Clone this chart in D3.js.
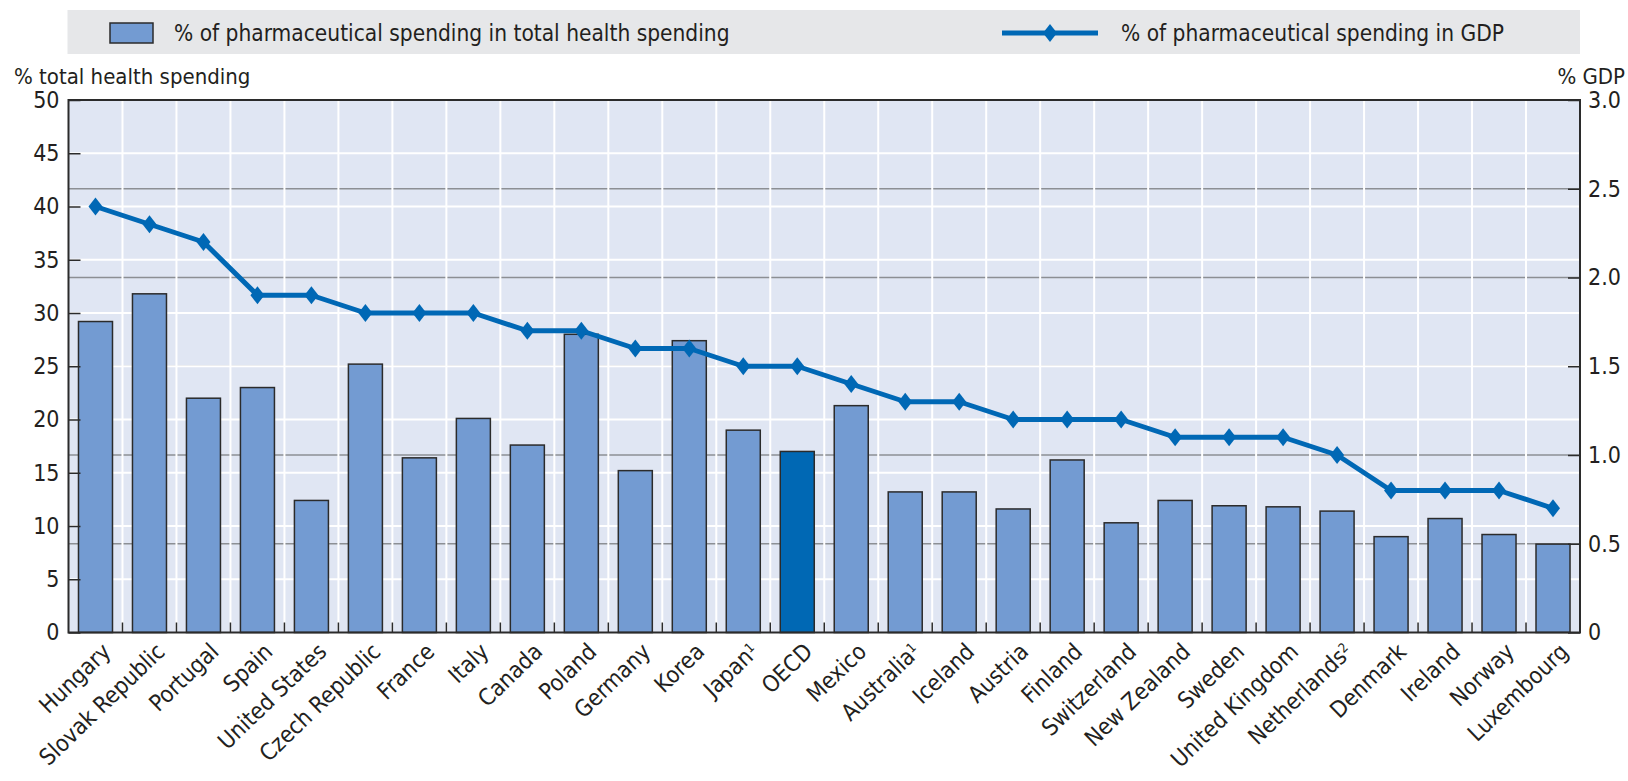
<!DOCTYPE html>
<html><head><meta charset="utf-8">
<script src="https://cdn.jsdelivr.net/npm/d3@7/dist/d3.min.js"></script>
<style>
html,body{margin:0;padding:0;background:#fff;}
svg text{font-family:"DejaVu Sans Condensed","Liberation Sans Narrow",sans-serif;fill:#231f20;}
</style></head><body>
<svg id="chart" width="1628" height="781"></svg>
<script>
const categories = ["Hungary","Slovak Republic","Portugal","Spain","United States","Czech Republic","France","Italy","Canada","Poland","Germany","Korea","Japan","OECD","Mexico","Australia","Iceland","Austria","Finland","Switzerland","New Zealand","Sweden","United Kingdom","Netherlands","Denmark","Ireland","Norway","Luxembourg"];
const superscripts = {"Japan":"1","Australia":"1","Netherlands":"2"};
const healthShare = [29.2,31.8,22.0,23.0,12.4,25.2,16.4,20.1,17.6,28.0,15.2,27.4,19.0,17.0,21.3,13.2,13.2,11.6,16.2,10.3,12.4,11.9,11.8,11.4,9.0,10.7,9.2,8.3];
const gdpShare = [2.4,2.3,2.2,1.9,1.9,1.8,1.8,1.8,1.7,1.7,1.6,1.6,1.5,1.5,1.4,1.3,1.3,1.2,1.2,1.2,1.1,1.1,1.1,1.0,0.8,0.8,0.8,0.7];
const leftTicks = [0,5,10,15,20,25,30,35,40,45,50];
const rightTicks = [0,0.5,1.0,1.5,2.0,2.5,3.0];
const legendLabels = ["% of pharmaceutical spending in total health spending","% of pharmaceutical spending in GDP"];
const axisTitles = ["% total health spending","% GDP"];

const svg = d3.select("#chart");
const L = 68.5, R = 1580, T = 100, B = 632.5;
const barColor = "#739bd2", oecdColor = "#0068b4", lineColor = "#0068b5", ink = "#2b2b2b";

const x = d3.scaleBand().domain(categories).range([L, R]).paddingInner(0.37).paddingOuter(0.185);
const xb = d3.scaleBand().domain(categories).range([L, R]);
const yL = d3.scaleLinear().domain([0,50]).range([B, T]);
const yR = d3.scaleLinear().domain([0,3]).range([B, T]);

// legend box
svg.append("rect").attr("x",67.5).attr("y",10).attr("width",1512.5).attr("height",44).attr("fill","#e6e7e9");
svg.append("rect").attr("x",110).attr("y",23).attr("width",43).attr("height",20).attr("fill",barColor).attr("stroke",ink).attr("stroke-width",1.5);
svg.append("text").attr("x",174).attr("y",41).attr("font-size",22.5).text(legendLabels[0]);
svg.append("line").attr("x1",1002).attr("x2",1098).attr("y1",33).attr("y2",33).attr("stroke",lineColor).attr("stroke-width",5);
svg.append("path").attr("d","M0,-9L7,0L0,9L-7,0Z").attr("transform","translate(1050,33)").attr("fill",lineColor);
svg.append("text").attr("x",1121).attr("y",41).attr("font-size",22.5).text(legendLabels[1]);

// axis titles
svg.append("text").attr("x",14).attr("y",84).attr("font-size",22).text(axisTitles[0]);
svg.append("text").attr("x",1625).attr("y",84).attr("font-size",22).attr("text-anchor","end").text(axisTitles[1]);

// plot background
svg.append("rect").attr("x",L).attr("y",T).attr("width",R-L).attr("height",B-T).attr("fill","#e0e6f3");

// gray gridlines at right axis ticks
svg.append("g").selectAll("line").data(rightTicks.filter(d=>d>0&&d<3)).join("line")
  .attr("x1",L).attr("x2",R).attr("y1",d=>yR(d)).attr("y2",d=>yR(d))
  .attr("stroke","#8c8f94").attr("stroke-width",1.5);
// white gridlines at left ticks
svg.append("g").selectAll("line").data(leftTicks.filter(d=>d>0&&d<50)).join("line")
  .attr("x1",L).attr("x2",R).attr("y1",d=>yL(d)).attr("y2",d=>yL(d))
  .attr("stroke","#ffffff").attr("stroke-width",2);
// vertical white gridlines at band boundaries
const bounds = categories.slice(1).map(c=>xb(c));
svg.append("g").selectAll("line").data(bounds).join("line")
  .attr("x1",d=>d).attr("x2",d=>d).attr("y1",T).attr("y2",B)
  .attr("stroke","#ffffff").attr("stroke-width",2);
// bottom small ticks
svg.append("g").selectAll("line").data(bounds).join("line")
  .attr("x1",d=>d).attr("x2",d=>d).attr("y1",B).attr("y2",B-10)
  .attr("stroke",ink).attr("stroke-width",1.5);

// bars
svg.append("g").selectAll("rect").data(categories).join("rect")
  .attr("x",d=>x(d)).attr("width",x.bandwidth())
  .attr("y",(d,i)=>yL(healthShare[i])).attr("height",(d,i)=>B-yL(healthShare[i]))
  .attr("fill",d=>d==="OECD"?oecdColor:barColor)
  .attr("stroke",ink).attr("stroke-width",1.5);

// line
const line = d3.line().x((d,i)=>xb(categories[i])+xb.bandwidth()/2).y(d=>yR(d));
svg.append("path").datum(gdpShare).attr("d",line).attr("fill","none").attr("stroke",lineColor).attr("stroke-width",5).attr("stroke-linejoin","round");
svg.append("g").selectAll("path").data(gdpShare).join("path")
  .attr("d","M0,-9L7,0L0,9L-7,0Z")
  .attr("transform",(d,i)=>`translate(${xb(categories[i])+xb.bandwidth()/2},${yR(d)})`)
  .attr("fill",lineColor);

// frame
svg.append("rect").attr("x",L).attr("y",T).attr("width",R-L).attr("height",B-T).attr("fill","none").attr("stroke",ink).attr("stroke-width",2);

// left axis
const gL = svg.append("g").attr("transform",`translate(${L},0)`)
  .call(d3.axisLeft(yL).tickValues(leftTicks).tickSize(-12).tickPadding(9).tickFormat(d3.format("d")));
gL.select(".domain").remove();
gL.selectAll(".tick line").attr("stroke",ink).attr("stroke-width",1.5);
gL.selectAll(".tick text").attr("font-size",23).attr("font-family",null).style("fill","#231f20");

// right axis
const gR = svg.append("g").attr("transform",`translate(${R},0)`)
  .call(d3.axisRight(yR).tickValues(rightTicks).tickSize(-12).tickPadding(8).tickFormat(d=>d===0?"0":d3.format(".1f")(d)));
gR.select(".domain").remove();
gR.selectAll(".tick line").attr("stroke",ink).attr("stroke-width",1.5);
gR.selectAll(".tick text").attr("font-size",23).attr("font-family",null).style("fill","#231f20");

// category labels
const labels = svg.append("g").selectAll("text").data(categories).join("text")
  .attr("text-anchor","end").attr("font-size",23)
  .attr("transform",d=>`translate(${xb(d)+xb.bandwidth()/2+11},${B+15}) rotate(-44)`)
  .attr("dy","0.35em");
labels.append("tspan").text(d=>d);
labels.filter(d=>superscripts[d]).append("tspan").attr("font-size",13).attr("baseline-shift","super").text(d=>superscripts[d]);
</script>
</body></html>
